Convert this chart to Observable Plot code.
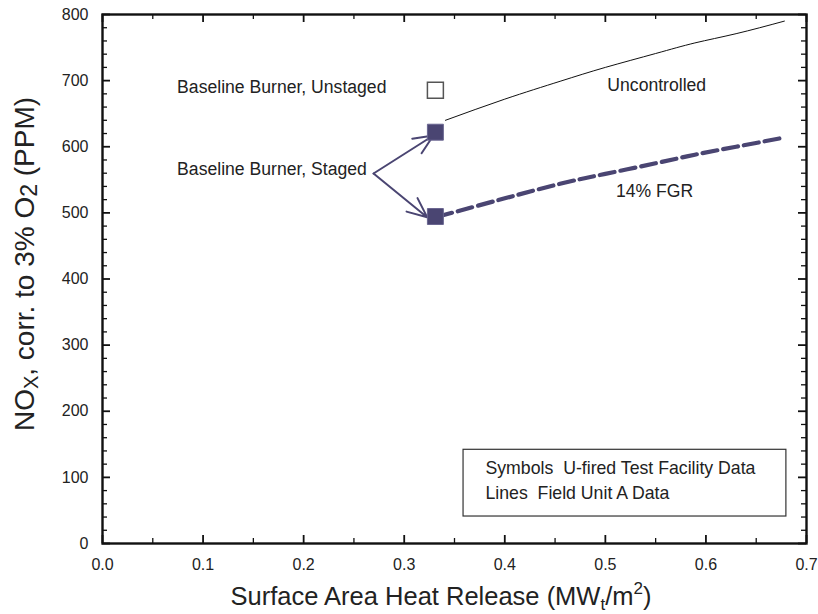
<!DOCTYPE html>
<html><head><meta charset="utf-8">
<script src="https://cdn.jsdelivr.net/npm/d3@7"></script>
<script src="https://cdn.jsdelivr.net/npm/@observablehq/plot@0.6"></script>
<style>
body{margin:0;background:#fff;}
#chart{position:relative;width:818px;height:614px;}
svg{font-family:"Liberation Sans",Arial,Helvetica,sans-serif;}
</style>
</head><body><div id="chart"></div>
<script>
// Tick values
const xMajor = [0, 0.1, 0.2, 0.3, 0.4, 0.5, 0.6, 0.7];
const xMinor = [0.05, 0.15, 0.25, 0.35, 0.45, 0.55, 0.65];
const yMajor = [0, 100, 200, 300, 400, 500, 600, 700, 800];
const yMinor = d3.range(0, 801, 20).filter(v => v % 100 !== 0);

// Field Unit A lines
const uncontrolledX = [0.341, 0.40, 0.455, 0.50, 0.55, 0.589, 0.63, 0.678];
const uncontrolledY = [640, 672, 699, 720, 741, 757, 771, 790];
const fgrX = [0.333, 0.40, 0.455, 0.50, 0.55, 0.589, 0.63, 0.678];
const fgrY = [494, 522, 544, 559, 575, 588, 600, 614];

// U-fired test facility symbols
const unstagedX = [0.331];
const unstagedY = [685.5];
const stagedX = [0.331, 0.331];
const stagedY = [622, 494.5];

// Annotations
const annoText = ["Baseline Burner, Unstaged", "Baseline Burner, Staged", "Uncontrolled", "14% FGR"];
const annoX = [0.0742, 0.0742, 0.502, 0.5105];
const annoY = [690, 566, 693, 533];
const arrowX1 = [0.2695, 0.2695];
const arrowY1 = [559.5, 559.5];
const arrowX2 = [0.329, 0.3228];
const arrowY2 = [617, 493.5];
const legendLines = ["Symbols  U-fired Test Facility Data", "Lines  Field Unit A Data"];
const legendTextX = [0.3808, 0.3808];
const legendTextY = [114.2, 75.6];
const legendBox = [{x1: 0.359, x2: 0.680, y1: 40.8, y2: 141.7}];

const purple = "#4a4572";
const ink = "#222";

const W = 818, H = 614, mL = 102, mR = 12, mT = 14, mB = 71;
const innerW = W - mL - mR, innerH = H - mT - mB;
const xDom = [0, 0.7], yDom = [0, 800];
// tick lengths (px) converted into data units
const kx = (xDom[1] - xDom[0]) / innerW, ky = (yDom[1] - yDom[0]) / innerH;
const major = 8, minor = 5;

const unc = uncontrolledX.map((x, i) => ({x, y: uncontrolledY[i]}));
const fgr = fgrX.map((x, i) => ({x, y: fgrY[i]}));
const staged = stagedX.map((x, i) => ({x, y: stagedY[i]}));
const unstaged = unstagedX.map((x, i) => ({x, y: unstagedY[i]}));
const anno = annoText.map((t, i) => ({t, x: annoX[i], y: annoY[i]}));
const arrows = arrowX1.map((x1, i) => ({x1, y1: arrowY1[i], x2: arrowX2[i], y2: arrowY2[i]}));
const legend = legendLines.map((t, i) => ({t, x: legendTextX[i], y: legendTextY[i]}));

const tickMarksX = (vals, len, sw) => [
  Plot.ruleX(vals, {x: d => d, y1: yDom[0], y2: yDom[0] + len * ky, stroke: "#111", strokeWidth: sw}),
  Plot.ruleX(vals, {x: d => d, y1: yDom[1], y2: yDom[1] - len * ky, stroke: "#111", strokeWidth: sw})
];
const tickMarksY = (vals, len, sw) => [
  Plot.ruleY(vals, {y: d => d, x1: xDom[0], x2: xDom[0] + len * kx, stroke: "#111", strokeWidth: sw}),
  Plot.ruleY(vals, {y: d => d, x1: xDom[1], x2: xDom[1] - len * kx, stroke: "#111", strokeWidth: sw})
];

const svg = Plot.plot({
  width: W,
  height: H,
  marginLeft: mL,
  marginRight: mR,
  marginTop: mT,
  marginBottom: mB,
  style: {fontFamily: '"Liberation Sans",Arial,Helvetica,sans-serif', color: ink, background: "#fff"},
  x: {domain: xDom},
  y: {domain: yDom},
  marks: [
    // inside ticks on all four sides
    ...tickMarksX(xMajor, major, 1.8),
    ...tickMarksX(xMinor, minor, 1.3),
    ...tickMarksY(yMajor, major, 1.8),
    ...tickMarksY(yMinor, minor, 1.3),
    // tick labels
    Plot.axisX(xMajor, {anchor: "bottom", tickSize: 0, tickPadding: 15, tickFormat: d3.format(".1f"), fontSize: 16, label: null}),
    Plot.axisY(yMajor, {anchor: "left", tickSize: 0, tickPadding: 14, tickFormat: d3.format("d"), fontSize: 16, label: null}),
    // legend box
    Plot.rect(legendBox, {x1: "x1", x2: "x2", y1: "y1", y2: "y2", fill: "none", stroke: "#333", strokeWidth: 1.2}),
    Plot.text(legend, {x: "x", y: "y", text: "t", textAnchor: "start", fontSize: 17.7, fill: ink}),
    // lines
    Plot.line(unc, {x: "x", y: "y", curve: "natural", stroke: "#111", strokeWidth: 1}),
    Plot.line(fgr, {x: "x", y: "y", curve: "natural", stroke: purple, strokeWidth: 4.2, strokeDasharray: "15,6"}),
    // arrows
    Plot.arrow(arrows, {x1: "x1", y1: "y1", x2: "x2", y2: "y2", stroke: purple, strokeWidth: 2, headLength: 16, headAngle: 48}),
    // symbols
    Plot.dot(unstaged, {x: "x", y: "y", symbol: "square", r: 9, fill: "#fff", stroke: "#555", strokeWidth: 1.5}),
    Plot.dot(staged, {x: "x", y: "y", symbol: "square", r: 9, fill: purple, stroke: "#6a6690", strokeWidth: 1}),
    // annotations
    Plot.text(anno, {x: "x", y: "y", text: "t", textAnchor: "start", fontSize: 17.6, fill: ink}),
    Plot.frame({stroke: "#111", strokeWidth: 2.4})
  ]
});

document.getElementById("chart").appendChild(svg);

const s = d3.select(svg);
const xl = s.append("text")
  .attr("x", 441).attr("y", 605)
  .attr("text-anchor", "middle")
  .attr("font-size", 25.5).attr("fill", ink);
xl.append("tspan").text("Surface Area Heat Release (MW");
xl.append("tspan").text("t").attr("font-size", 17).attr("dy", 5);
xl.append("tspan").text("/m").attr("dy", -5);
xl.append("tspan").text("2").attr("font-size", 17).attr("dy", -11);
xl.append("tspan").text(")").attr("dy", 11);

const yl = s.append("text")
  .attr("transform", "translate(34,264) rotate(-90)")
  .attr("text-anchor", "middle")
  .attr("font-size", 28).attr("fill", ink);
yl.append("tspan").text("NO");
yl.append("tspan").text("X").attr("font-size", 20).attr("dy", 4);
yl.append("tspan").text(", corr. to 3% O").attr("dy", -4);
yl.append("tspan").text("2").attr("font-size", 23).attr("dy", 3);
yl.append("tspan").text(" (PPM)").attr("dy", -3);
</script>
</body></html>
